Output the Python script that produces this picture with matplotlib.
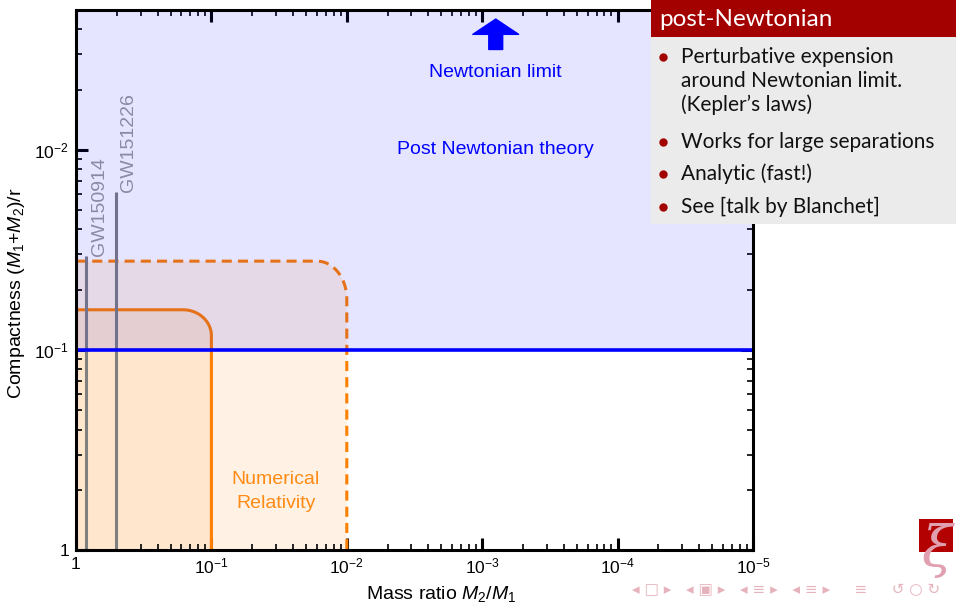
import numpy as np
import matplotlib
matplotlib.use('Agg')
import matplotlib.pyplot as plt
from matplotlib.patches import Rectangle
from matplotlib.lines import Line2D
from matplotlib.ticker import FixedLocator, NullFormatter

plt.rcParams['font.family'] = ['Liberation Sans', 'DejaVu Sans']
plt.rcParams['mathtext.fontset'] = 'custom'
plt.rcParams['mathtext.rm'] = 'Liberation Sans'
plt.rcParams['mathtext.it'] = 'Liberation Sans:italic'

# --- values ---
x_range = (1.0, 1e-5)          # mass ratio, axis runs right-to-left in value
y_range = (1.0, 2e-3)          # compactness, 1 at the bottom
x_ticks = [1, 1e-1, 1e-2, 1e-3, 1e-4, 1e-5]
x_tick_labels = ['1', '$10^{-1}$', '$10^{-2}$', '$10^{-3}$', '$10^{-4}$', '$10^{-5}$']
y_ticks = [1, 1e-1, 1e-2]
y_tick_labels = ['1', '$10^{-1}$', '$10^{-2}$']

pn_limit = 0.1                 # blue line, PN valid above it

# NR coverage: q_max, top compactness, corner size (decades in x, y)
nr_now = (0.1, 0.063, 0.21, 0.13)
nr_future = (0.01, 0.036, 0.22, 0.19)

gw_names = ['GW150914', 'GW151226']
gw_q = [0.84, 0.51]
gw_top = [0.034, 0.0162]

bullets = [
    ['Perturbative expension', 'around Newtonian limit.', '(Kepler\u2019s laws)'],
    ['Works for large separations'],
    ['Analytic (fast!)'],
    ['See [talk by Blanchet]'],
]

ORANGE = '#ff8000'
W, H = 956, 605


def nr_outline(q_max, c_top, wx, wy, n=40):
    # flat top, rounded corner (quarter ellipse in log space), vertical side
    lx0, ly0 = np.log10(q_max), np.log10(c_top)
    t = np.linspace(0, np.pi / 2, n)
    lx = (lx0 + wx) - wx * np.sin(t)
    ly = (ly0 + wy) - wy * np.cos(t)
    xs = np.concatenate([[x_range[0]], 10 ** lx, [q_max]])
    ys = np.concatenate([[c_top], 10 ** ly, [y_range[0]]])
    return xs, ys


fig = plt.figure(figsize=(W / 100, H / 100), dpi=100)
ax = fig.add_axes([76 / W, 1 - 550 / H, (753 - 76) / W, 540 / H])
ax.set_xscale('log')
ax.set_yscale('log')
ax.set_xlim(*x_range)
ax.set_ylim(*y_range)

# NR regions
for spec, ls in [(nr_future, (0, (3.3, 2.0))), (nr_now, '-')]:
    xs, ys = nr_outline(*spec)
    ax.fill(np.append(xs, x_range[0]), np.append(ys, y_range[0]),
            color=ORANGE, alpha=0.1, lw=0, zorder=1)
    ax.plot(xs, ys, color=ORANGE, lw=2.2, ls=ls, zorder=2,
            solid_capstyle='butt', dash_capstyle='butt')

# detected events
ax.vlines(gw_q, gw_top, y_range[0], color='#808080', lw=2.2, zorder=2)
for name, q, c in zip(gw_names, gw_q, gw_top):
    ax.annotate(name, xy=(q, c), xytext=(3.5, 0), textcoords='offset points',
                rotation=90, ha='left', va='bottom', fontsize=14,
                color='#9a9a9a', zorder=2)

# PN region
ax.axhspan(y_range[1], pn_limit, color='blue', alpha=0.1, lw=0, zorder=3)
ax.axhline(pn_limit, color='blue', lw=2.6, zorder=5)

ax.annotate('', xy=(10 ** -3.1, 0.00222), xytext=(10 ** -3.1, 0.00315),
            arrowprops=dict(arrowstyle='simple,head_length=0.55,head_width=1.65,tail_width=0.5',
                            color='blue', mutation_scale=20, shrinkA=0, shrinkB=0),
            zorder=6)
ax.text(10 ** -3.1, 0.0041, 'Newtonian limit', color='blue', fontsize=14,
        ha='center', va='center', zorder=6)
ax.text(10 ** -3.1, 0.0100, 'Post Newtonian theory', color='blue', fontsize=14,
        ha='center', va='center', zorder=6)
ax.text(10 ** -1.476, 0.51, 'Numerical\nRelativity', color='#ff8a14', fontsize=14,
        ha='center', va='center', linespacing=1.6, zorder=6)

# axes styling
for sp in ax.spines.values():
    sp.set_linewidth(2.2)
    sp.set_zorder(7)
ax.set_xticks(x_ticks, x_tick_labels)
ax.set_yticks(y_ticks, y_tick_labels)
ax.xaxis.set_minor_locator(FixedLocator([10.0 ** -m / k for m in range(5) for k in range(2, 10)]))
ax.yaxis.set_minor_locator(FixedLocator([10.0 ** -m / k for m in range(3) for k in range(2, 10)]))
ax.xaxis.set_minor_formatter(NullFormatter())
ax.yaxis.set_minor_formatter(NullFormatter())
ax.tick_params(which='both', direction='in', top=True, right=True)
ax.tick_params(which='major', length=8.5, width=2.2, labelsize=12.5, pad=5)
ax.tick_params(which='minor', length=4, width=1.2)

ax.set_xlabel('Mass ratio $M_2$/$M_1$', fontsize=14)
ax.xaxis.set_label_coords(0.54, -0.063)
ax.set_ylabel('Compactness ($M_1$+$M_2$)/r', fontsize=14)
ax.yaxis.set_label_coords(-0.073, 0.475)

# beamer block on the right
def fx(px):
    return px / W


def fy(py):
    return 1 - py / H


fig.add_artist(Rectangle((fx(651), fy(37)), fx(956) - fx(651), 37 / H,
                         transform=fig.transFigure, color='#a30000', lw=0, zorder=10))
fig.add_artist(Rectangle((fx(651), fy(224)), fx(956) - fx(651), (224 - 37) / H,
                         transform=fig.transFigure, color='#ebebeb', lw=0, zorder=10))
fig.text(fx(659), fy(26), 'post-Newtonian', color='white', fontsize=17.5,
         family='Lato', va='baseline', zorder=11)

baselines = [[63, 87, 111], [148], [180], [213]]
for lines, bl in zip(bullets, baselines):
    fig.add_artist(Line2D([fx(663)], [fy(bl[0] - 6)], marker='o', ms=5,
                          color='#a30000', transform=fig.transFigure, zorder=11))
    for line, b in zip(lines, bl):
        fig.text(fx(681), fy(b), line, color='#111111', fontsize=15,
                 family='Lato', va='baseline', zorder=11)

# navigation symbols and logo
fig.text(fx(632), fy(590), '\u25c2 \u25a1 \u25b8   \u25c2 \u25a3 \u25b8   \u25c2 \u2261 \u25b8   \u25c2 \u2261 \u25b8     \u2261     \u21ba \u25cb \u21bb',
         color='#e6b3bc', fontsize=11, family='DejaVu Sans', va='center')
fig.add_artist(Rectangle((fx(919), fy(552)), 34 / W, 33 / H,
                         transform=fig.transFigure, color='#b30000', lw=0, zorder=10))
fig.text(fx(936), fy(550), '\u03be', color='#e0a0b0', fontsize=40,
         family='DejaVu Serif', style='italic', ha='center', va='center', zorder=11)

fig.savefig('out.png', dpi=100)
